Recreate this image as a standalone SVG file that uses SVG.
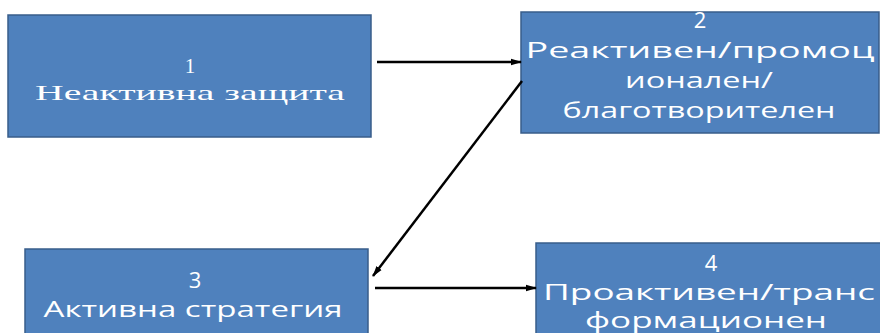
<svg xmlns="http://www.w3.org/2000/svg" width="880" height="333" viewBox="0 0 880 333">
<defs>
<marker id="ah" markerWidth="11" markerHeight="8" refX="10" refY="4" orient="auto" markerUnits="userSpaceOnUse">
<path d="M0,0.8 L11,4 L0,7.2 z" fill="#000"/>
</marker>
<style>
.box{fill:#4F81BD;stroke:#385D8A;stroke-width:1.5}
.t{fill:#fff;font-family:"Open Sans","Liberation Sans",sans-serif;font-size:22px;text-anchor:middle}
.s{fill:#fff;font-family:"Liberation Serif","Times New Roman",serif;font-size:21px;text-anchor:middle}
.c{stroke:#000;stroke-width:2.5;fill:none;marker-end:url(#ah)}
</style>
</defs>
<rect width="880" height="333" fill="#fff"/>
<g id="node1">
<rect class="box" x="8" y="15" width="363" height="122"/>
<text class="s" x="190" y="73">1</text>
<text class="s" x="190" y="100" textLength="310" lengthAdjust="spacingAndGlyphs">Неактивна   защита</text>
</g>
<g id="node2">
<rect class="box" x="521" y="12" width="358" height="121"/>
<text class="t" x="700" y="28">2</text>
<text class="t" x="700" y="58" textLength="349" lengthAdjust="spacingAndGlyphs">Реактивен/промоц</text>
<text class="t" x="699" y="88" textLength="148" lengthAdjust="spacingAndGlyphs">ионален/</text>
<text class="t" x="699" y="118" textLength="273" lengthAdjust="spacingAndGlyphs">благотворителен</text>
</g>
<g id="node3">
<rect class="box" x="25" y="249" width="343" height="100"/>
<text class="t" x="195" y="288">3</text>
<text class="t" x="193" y="317" textLength="299" lengthAdjust="spacingAndGlyphs">Активна стратегия</text>
</g>
<g id="node4">
<rect class="box" x="536" y="243" width="350" height="100"/>
<text class="t" x="711" y="271">4</text>
<text class="t" x="709" y="300" textLength="332" lengthAdjust="spacingAndGlyphs">Проактивен/транс</text>
<text class="t" x="706" y="328" textLength="242" lengthAdjust="spacingAndGlyphs">формационен</text>
</g>
<g id="connectors">
<line class="c" x1="377" y1="62" x2="521" y2="62"/>
<line class="c" x1="522" y1="81" x2="373" y2="276"/>
<line class="c" x1="375" y1="288" x2="536" y2="288"/>
</g>
</svg>
